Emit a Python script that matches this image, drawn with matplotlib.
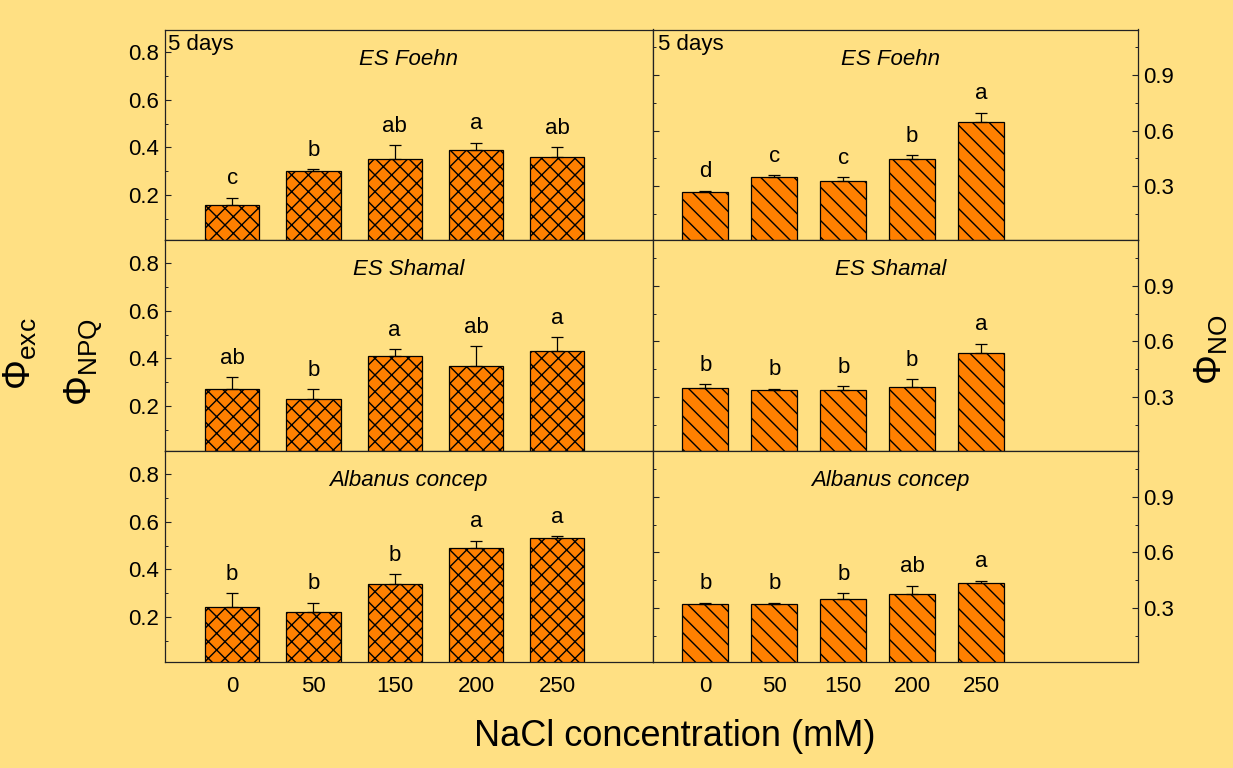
import matplotlib
matplotlib.use("Agg")
import matplotlib.pyplot as plt
from matplotlib.ticker import MultipleLocator

plt.rcParams['font.family'] = 'Liberation Sans'
plt.rcParams['mathtext.fontset'] = 'custom'
plt.rcParams['mathtext.rm'] = 'Liberation Sans'
plt.rcParams['mathtext.it'] = 'Liberation Sans:italic'
plt.rcParams['hatch.linewidth'] = 1.0

# ---- data ----
nacl = ['0', '50', '150', '200', '250']
cultivars = ['ES Foehn', 'ES Shamal', 'Albanus concep']

# left column: Phi_exc / Phi_NPQ
npq_mean = [
    [0.16, 0.30, 0.35, 0.39, 0.36],
    [0.27, 0.23, 0.41, 0.37, 0.43],
    [0.24, 0.22, 0.34, 0.49, 0.53],
]
npq_err = [
    [0.03, 0.01, 0.06, 0.03, 0.04],
    [0.05, 0.04, 0.03, 0.08, 0.06],
    [0.06, 0.04, 0.04, 0.03, 0.01],
]
npq_letters = [
    ['c', 'b', 'ab', 'a', 'ab'],
    ['ab', 'b', 'a', 'ab', 'a'],
    ['b', 'b', 'b', 'a', 'a'],
]

# right column: Phi_NO
no_mean = [
    [0.266, 0.347, 0.327, 0.446, 0.646],
    [0.347, 0.338, 0.338, 0.356, 0.536],
    [0.320, 0.320, 0.347, 0.377, 0.437],
]
no_err = [
    [0.009, 0.011, 0.020, 0.020, 0.050],
    [0.022, 0.007, 0.020, 0.041, 0.052],
    [0.009, 0.009, 0.032, 0.043, 0.010],
]
no_letters = [
    ['d', 'c', 'c', 'b', 'a'],
    ['b', 'b', 'b', 'b', 'a'],
    ['b', 'b', 'b', 'ab', 'a'],
]

bg = '#FFE083'
bar_color = '#FF8000'
spine_color = '#222222'
fs = 16

fig = plt.figure(figsize=(12.33, 7.68), dpi=100, facecolor=bg)

left, mid, right = 165 / 1233, 652.5 / 1233, 1138 / 1233
top, bottom = 1 - 29.5 / 768, 1 - 662.3 / 768
row_h = (top - bottom) / 3

pos = [1, 2, 3, 4, 5]


def draw_panel(ax, means, errs, letters, hatch, xlim, ylim):
    ax.set_facecolor(bg)
    ax.bar(pos, means, width=0.667, color=bar_color, edgecolor='black',
           linewidth=0.9, hatch=hatch, zorder=2)
    ax.errorbar(pos, means, yerr=[[0] * 5, errs], fmt='none', ecolor='black',
                elinewidth=0.9, capsize=4, capthick=0.9, zorder=3)
    for x, m, e, lab in zip(pos, means, errs, letters):
        ax.annotate(lab, (x, m + e), xytext=(0, 6), textcoords='offset points',
                    ha='center', va='bottom', fontsize=fs)
    ax.set_xlim(*xlim)
    ax.set_ylim(*ylim)
    for s in ax.spines.values():
        s.set_color(spine_color)
        s.set_linewidth(0.9)
    ax.tick_params(axis='x', length=0, pad=10, labelsize=fs)
    ax.tick_params(axis='y', which='major', direction='in', length=4,
                   width=0.8, labelsize=fs, color=spine_color)
    ax.tick_params(axis='y', which='minor', direction='in', length=2.5,
                   width=0.7, color=spine_color)


for r in range(3):
    y0 = top - (r + 1) * row_h

    # left column
    ax = fig.add_axes([left, y0, mid - left, row_h])
    draw_panel(ax, npq_mean[r], npq_err[r], npq_letters[r], 'xx',
               (0.173, 6.173), (0.01, 0.895))
    ax.yaxis.set_minor_locator(MultipleLocator(0.1))
    ax.set_yticks([0.2, 0.4, 0.6, 0.8])
    ax.set_yticklabels(['0.2', '0.4', '0.6', '0.8'])
    ax.tick_params(axis='y', pad=4)
    ax.text(0.5, 0.86, cultivars[r], transform=ax.transAxes, ha='center',
            va='center', fontsize=fs, style='italic')
    if r == 0:
        ax.text(0.006, 0.98, '5 days', transform=ax.transAxes, ha='left',
                va='top', fontsize=fs)
    if r == 2:
        ax.set_xticks(pos)
        ax.set_xticklabels(nacl)
    else:
        ax.set_xticks([])

    # right column
    ax = fig.add_axes([mid, y0, right - mid, row_h])
    draw_panel(ax, no_mean[r], no_err[r], no_letters[r], '\\\\',
               (0.232, 7.275), (0.006, 1.146))
    ax.set_yticks([0.3, 0.6, 0.9])
    ax.set_yticklabels(['0.3', '0.6', '0.9'])
    ax.yaxis.set_minor_locator(MultipleLocator(0.15))
    ax.yaxis.tick_right()
    ax.tick_params(axis='y', which='both', left=True, right=True,
                   labelleft=False, labelright=True, pad=4)
    ax.text(0.49, 0.86, cultivars[r], transform=ax.transAxes, ha='center',
            va='center', fontsize=fs, style='italic')
    if r == 0:
        ax.text(0.011, 0.98, '5 days', transform=ax.transAxes, ha='left',
                va='top', fontsize=fs)
    if r == 2:
        ax.set_xticks(pos)
        ax.set_xticklabels(nacl)
    else:
        ax.set_xticks([])

# axis titles
fig.text(675 / 1233, 1 - 737 / 768, 'NaCl concentration (mM)', ha='center',
         va='center', fontsize=26)
fig.text(20 / 1233, 1 - 318 / 768, r'$\Phi_{\mathrm{exc}}$', rotation=90,
         ha='center', va='top', fontsize=27)
fig.text(84 / 1233, 1 - 318 / 768, r'$\Phi_{\mathrm{NPQ}}$', rotation=90,
         ha='center', va='top', fontsize=27)
fig.text(1211 / 1233, 1 - 315 / 768, r'$\Phi_{\mathrm{NO}}$', rotation=90,
         ha='center', va='top', fontsize=27)

fig.savefig('out.png', dpi=100, facecolor=bg)
